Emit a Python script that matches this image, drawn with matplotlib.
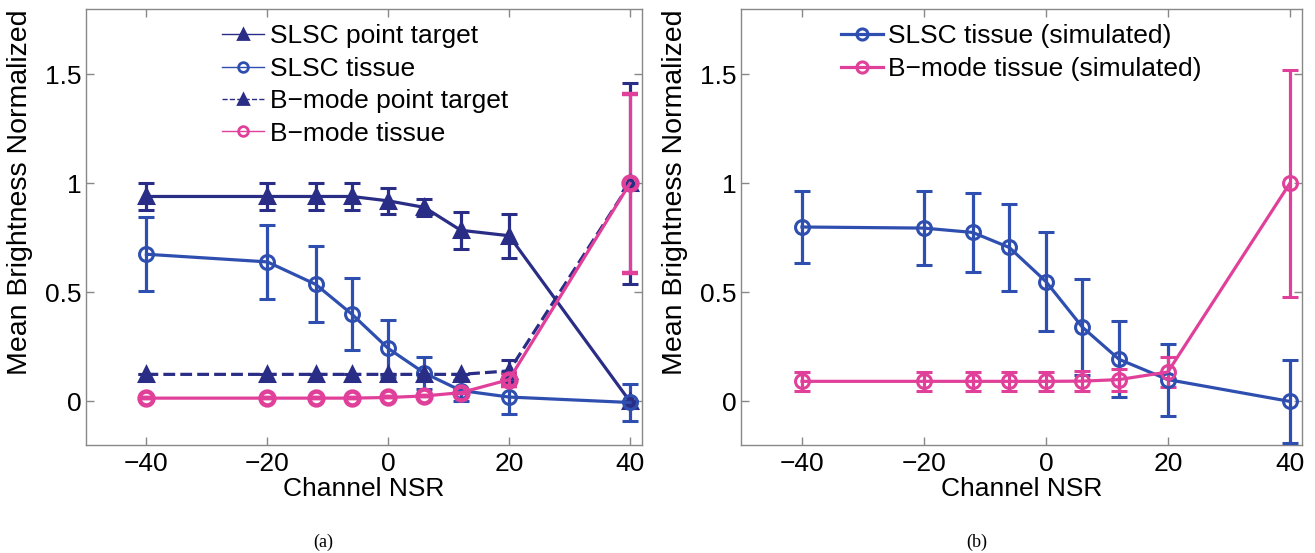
import matplotlib
matplotlib.use("Agg")
import matplotlib.pyplot as plt
from matplotlib.lines import Line2D

plt.rcParams['font.family'] = ['Liberation Sans', 'DejaVu Sans']

# ---- Data ----
nsr = [-40, -20, -12, -6, 0, 6, 12, 20, 40]

# (a)
slsc_point = [0.94, 0.94, 0.94, 0.94, 0.92, 0.89, 0.785, 0.76, 0.0]
slsc_point_err = [0.06, 0.06, 0.06, 0.06, 0.06, 0.04, 0.085, 0.10, 0.0]
slsc_tissue = [0.675, 0.64, 0.537, 0.40, 0.243, 0.13, 0.05, 0.02, -0.005]
slsc_tissue_err = [0.17, 0.17, 0.175, 0.165, 0.13, 0.075, 0.05, 0.08, 0.085]
bmode_point = [0.124, 0.124, 0.124, 0.124, 0.124, 0.124, 0.124, 0.14, 1.0]
bmode_point_err = [0.0, 0.0, 0.0, 0.0, 0.0, 0.0, 0.0, 0.05, 0.46]
bmode_tissue = [0.015, 0.015, 0.015, 0.015, 0.018, 0.025, 0.04, 0.10, 1.0]
bmode_tissue_err = [0.0, 0.0, 0.0, 0.0, 0.0, 0.0, 0.0, 0.03, 0.41]

# (b)
slsc_sim = [0.80, 0.795, 0.775, 0.706, 0.55, 0.34, 0.193, 0.10, 0.0]
slsc_sim_err = [0.167, 0.17, 0.18, 0.20, 0.225, 0.22, 0.175, 0.165, 0.19]
bmode_sim = [0.092, 0.092, 0.092, 0.092, 0.092, 0.093, 0.10, 0.135, 1.0]
bmode_sim_err = [0.045, 0.045, 0.045, 0.045, 0.045, 0.045, 0.05, 0.07, 0.52]

xticks = [-40, -20, 0, 20, 40]
yticks = [0, 0.5, 1, 1.5]
ytick_labels = ['0', '0.5', '1', '1.5']

navy = '#2a2d85'
blue = '#2f4fb0'
pink = '#e0409a'

FS = 19

fig = plt.figure(figsize=(13.15, 5.53), dpi=100)
axa = fig.add_axes([86/1315, 108/553, 556/1315, 436/553])
axb = fig.add_axes([741/1315, 108/553, 561/1315, 436/553])

lw = 2.3
cap = 6
ms = 10


def eb(ax, y, err, color, ls='-', marker='o', mew=2.2, filled=False):
    ax.errorbar(nsr, y, yerr=err, color=color, lw=lw, ls=ls, marker=marker,
                ms=ms, mfc=color if filled else 'none', mec=color, mew=mew,
                capsize=cap, capthick=lw, elinewidth=lw, zorder=3)


def handle(color, ls, marker, filled):
    return Line2D([], [], color=color, lw=1.0, ls=ls, marker=marker, ms=7,
                  mfc=color if filled else 'none', mec=color, mew=2)


# (a)
eb(axa, slsc_point, slsc_point_err, navy, marker='^', filled=True)
eb(axa, slsc_tissue, slsc_tissue_err, blue)
eb(axa, bmode_point, bmode_point_err, navy, ls='--', marker='^', filled=True)
eb(axa, bmode_tissue, bmode_tissue_err, pink, mew=3.2)

# (b)
eb(axb, slsc_sim, slsc_sim_err, blue)
eb(axb, bmode_sim, bmode_sim_err, pink)

for ax in (axa, axb):
    ax.set_xlim(-50, 42)
    ax.set_ylim(-0.2, 1.8)
    ax.set_xticks(xticks)
    ax.set_xticklabels([str(t).replace('-', '\u2212') for t in xticks])
    ax.set_yticks(yticks)
    ax.set_yticklabels(ytick_labels)
    ax.tick_params(axis='both', direction='in', top=True, right=True, length=6, width=1,
                   color='#888888', labelsize=FS)
    ax.tick_params(axis='x', pad=5)
    ax.tick_params(axis='y', pad=3)
    for s in ax.spines.values():
        s.set_color('#888888')
        s.set_linewidth(1)
    ax.set_xlabel('Channel NSR', fontsize=FS, labelpad=1)
    ax.set_ylabel('Mean Brightness Normalized', fontsize=20.5)

axa.yaxis.set_label_coords(-53/556, 0.58)
axb.yaxis.set_label_coords(-53/561, 0.58)

ha = [handle(navy, '-', '^', True), handle(blue, '-', 'o', False),
      handle(navy, '--', '^', True), handle(pink, '-', 'o', False)]
la = ['SLSC point target', 'SLSC tissue', 'B\u2212mode point target', 'B\u2212mode tissue']
axa.legend(ha, la, loc='upper left', bbox_to_anchor=(0.226, 0.989), frameon=False,
           fontsize=FS, handlelength=1.6, handletextpad=0.2, labelspacing=0.32,
           borderaxespad=0)

hb = [Line2D([], [], color=blue, lw=2.3, marker='o', ms=8, mfc='none', mec=blue, mew=2.2),
      Line2D([], [], color=pink, lw=2.3, marker='o', ms=8, mfc='none', mec=pink, mew=2.2)]
lb = ['SLSC tissue (simulated)', 'B\u2212mode tissue (simulated)']
axb.legend(hb, lb, loc='upper left', bbox_to_anchor=(0.159, 0.989), frameon=False,
           fontsize=FS, handlelength=1.6, handletextpad=0.2, labelspacing=0.32,
           borderaxespad=0)

fig.text(323/1315, 1 - 542/553, '(a)', family=['Liberation Serif', 'DejaVu Serif'],
         fontsize=13, ha='center', va='center')
fig.text(977/1315, 1 - 542/553, '(b)', family=['Liberation Serif', 'DejaVu Serif'],
         fontsize=13, ha='center', va='center')

fig.savefig('out.png', dpi=100)
